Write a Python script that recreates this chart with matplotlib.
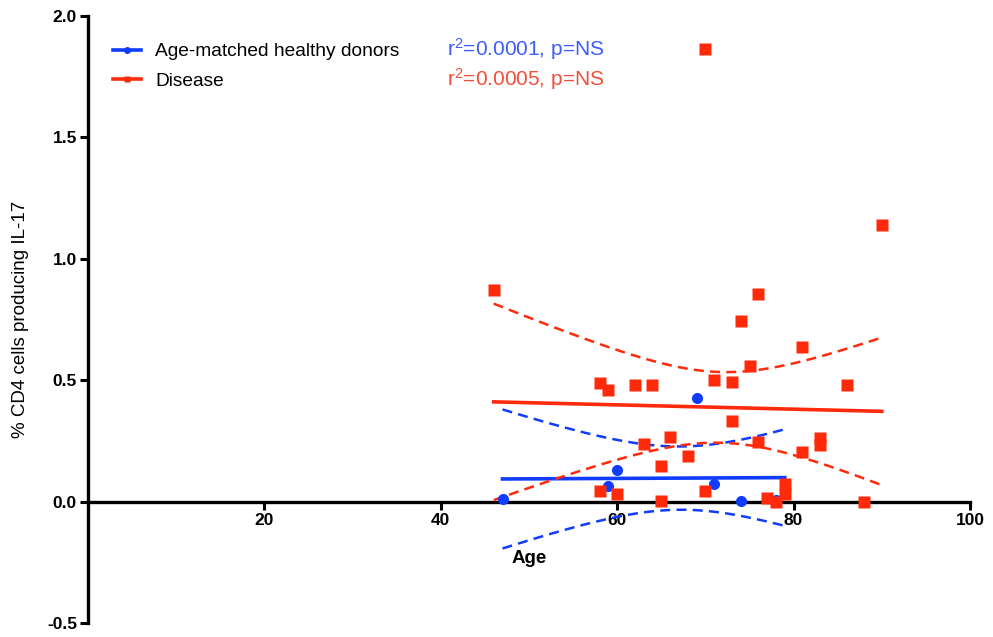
import numpy as np
import matplotlib
matplotlib.use("Agg")
import matplotlib.pyplot as plt

plt.rcParams["font.family"] = ["Liberation Sans", "DejaVu Sans"]
plt.rcParams["mathtext.fontset"] = "custom"
plt.rcParams["mathtext.rm"] = "Liberation Sans"
plt.rcParams["mathtext.it"] = "Liberation Sans:italic"

# healthy donors (age, % CD4 producing IL-17)
healthy_age = [47, 59, 60, 69, 71, 74, 78, 79]
healthy_val = [0.012, 0.066, 0.132, 0.425, 0.071, 0.001, 0.008, 0.059]

# disease group
disease_age = [46, 70, 90, 76, 74, 81, 75, 58, 59, 62, 64, 71, 73, 86, 73, 63,
               66, 76, 81, 83, 83, 68, 65, 58, 60, 65, 70, 77, 78, 79, 79, 88]
disease_val = [0.872, 1.864, 1.140, 0.856, 0.745, 0.635, 0.557, 0.489, 0.461, 0.481,
               0.481, 0.502, 0.494, 0.481, 0.333, 0.237, 0.265, 0.246, 0.204, 0.262,
               0.235, 0.186, 0.148, 0.042, 0.033, 0.004, 0.042, 0.014, 0.000, 0.072,
               0.033, 0.000]

healthy_label = "Age-matched healthy donors"
disease_label = "Disease"
healthy_stat = r"r$^{\mathrm{2}}$=0.0001, p=NS"
disease_stat = r"r$^{\mathrm{2}}$=0.0005, p=NS"

x_ticks = [20, 40, 60, 80, 100]
y_ticks = [-0.5, 0.0, 0.5, 1.0, 1.5, 2.0]

BLUE = "#0f3cff"
RED = "#ff2a0a"
BLUE_TXT = "#3d5cff"
RED_TXT = "#f0503a"

# two-sided 95% t quantiles for the residual degrees of freedom used here
T975 = {6: 2.447, 30: 2.042}


def fit_with_band(x, y):
    x = np.asarray(x, float)
    y = np.asarray(y, float)
    n = len(x)
    slope, icpt = np.polyfit(x, y, 1)
    resid = y - (slope * x + icpt)
    s = np.sqrt(np.sum(resid ** 2) / (n - 2))
    sxx = np.sum((x - x.mean()) ** 2)
    xs = np.linspace(x.min(), x.max(), 120)
    ys = slope * xs + icpt
    half = T975[n - 2] * s * np.sqrt(1.0 / n + (xs - x.mean()) ** 2 / sxx)
    return xs, ys, ys - half, ys + half


fig = plt.figure(figsize=(9.93, 6.37), dpi=100)
ax = fig.add_axes([88 / 993, 1 - 623 / 637, 882 / 993, 607 / 637])

for ages, vals, col, mk, ms, lab in [
    (healthy_age, healthy_val, BLUE, "o", 8, healthy_label),
    (disease_age, disease_val, RED, "s", 8.5, disease_label),
]:
    xs, ys, lo, hi = fit_with_band(ages, vals)
    ax.plot(xs, ys, color=col, lw=2.6, zorder=3)
    ax.plot(xs, lo, color=col, lw=1.8, ls=(0, (4, 2.5)), zorder=3)
    ax.plot(xs, hi, color=col, lw=1.8, ls=(0, (4, 2.5)), zorder=3)
    ax.plot(ages, vals, ls="none", marker=mk, ms=ms, color=col, mec="none",
            zorder=4, clip_on=False)
    # legend proxy: line with marker
    ax.plot([], [], color=col, lw=2.6, marker=mk, ms=5, mec="none", label=lab)

leg = ax.legend(loc="center left", bbox_to_anchor=(25 / 882, 0.917), frameon=False,
                borderpad=0, borderaxespad=0, handlelength=1.45, handletextpad=0.75,
                labelspacing=0.62, fontsize=13.8)

ax.text(0.407, 0.9456, healthy_stat, transform=ax.transAxes, color=BLUE_TXT,
        fontsize=15, va="center", ha="left")
ax.text(0.407, 0.896, disease_stat, transform=ax.transAxes, color=RED_TXT,
        fontsize=15, va="center", ha="left")

ax.set_xlim(0, 100)
ax.set_ylim(-0.5, 2.0)
ax.spines["top"].set_visible(False)
ax.spines["right"].set_visible(False)
ax.spines["bottom"].set_position(("data", 0))
ax.spines["left"].set_bounds(-0.5, 2.0)
for sp in ("left", "bottom"):
    ax.spines[sp].set_linewidth(2.4)
    ax.spines[sp].set_zorder(2)

ax.set_xticks(x_ticks)
ax.set_yticks(y_ticks)
ax.set_yticklabels([f"{v:.1f}" for v in y_ticks])
ax.tick_params(axis="both", direction="out", length=6, width=2.2, labelsize=12.5, pad=2)
for t in ax.get_xticklabels() + ax.get_yticklabels():
    t.set_fontweight("bold")

ax.set_xlabel("Age", fontsize=13.5, fontweight="bold", labelpad=16)
ax.set_ylabel("% CD4 cells producing IL-17", fontsize=13.5, labelpad=13)

fig.savefig("out.png", dpi=100)
